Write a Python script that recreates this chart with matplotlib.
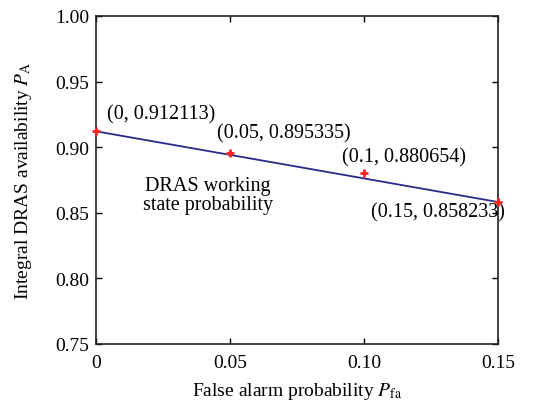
import matplotlib
matplotlib.use("Agg")
import matplotlib.pyplot as plt

# data
pfa = [0, 0.05, 0.1, 0.15]
pa = [0.912113, 0.895335, 0.880654, 0.858233]
line_x = [0, 0.15]
line_y = [0.912113, 0.858233]
labels = ["(0, 0.912113)", "(0.05, 0.895335)", "(0.1, 0.880654)", "(0.15, 0.858233)"]
label_pos = [(0.0041, 0.9253), (0.0451, 0.9108), (0.0918, 0.8926), (0.1025, 0.8505)]
xticks = [0, 0.05, 0.10, 0.15]
xticklabels = ["0", "0.05", "0.10", "0.15"]
yticks = [0.75, 0.80, 0.85, 0.90, 0.95, 1.00]

plt.rcParams["font.family"] = ["Liberation Serif", "DejaVu Serif"]
plt.rcParams["mathtext.fontset"] = "stix"
plt.rcParams["font.size"] = 14

fig = plt.figure(figsize=(5.39, 4.14), dpi=100)
ax = fig.add_axes([96 / 539, 1 - 345 / 414, 402 / 539, 328 / 414])

ax.plot(line_x, line_y, color="#2a2a8a", lw=1.3, zorder=2)
ax.plot(pfa, pa, ls="none", marker="+", color="#ff2020", ms=6, mew=2, zorder=5, clip_on=False)

for txt, (tx, ty) in zip(labels, label_pos):
    ax.text(tx, ty, txt, ha="left", va="center", fontsize=14.5, clip_on=False, zorder=4)

ax.text(0.0418, 0.8636, "DRAS working\nstate probability", ha="center", va="center",
        fontsize=14.5, linespacing=1.05)

ax.set_xlim(0, 0.15)
ax.set_ylim(0.75, 1.00)
ax.set_xticks(xticks)
ax.set_xticklabels(xticklabels)
ax.set_yticks(yticks)
ax.set_yticklabels([f"{v:.2f}" for v in yticks])
ax.tick_params(direction="in", top=True, right=True, length=4, width=1, labelsize=14)
ax.tick_params(axis="x", pad=7)
ax.tick_params(axis="y", pad=5)
for sp in ax.spines.values():
    sp.set_linewidth(1.2)
    sp.set_color("#222222")

ax.set_xlabel(r"False alarm probability $P_{\mathrm{fa}}$", fontsize=14, labelpad=7)
ax.set_ylabel(r"Integral DRAS availability $P_{\mathrm{A}}$", fontsize=14, labelpad=15)

fig.savefig("out.png", dpi=100)
